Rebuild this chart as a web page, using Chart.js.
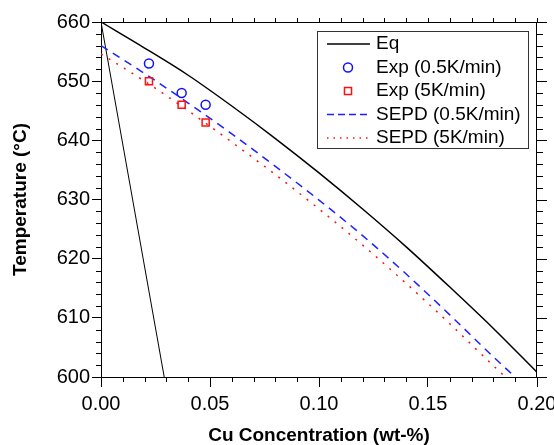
<!DOCTYPE html>
<html>
  <head>
    <meta charset="utf-8" />
    <title>Cu liquidus</title>
    <script src="https://cdn.jsdelivr.net/npm/chart.js"></script>
    <style>
      body { margin: 0; background: #fff; }
      canvas { display: block; }
    </style>
  </head>
  <body>
    <canvas id="phaseChart" width="554" height="445"></canvas>
    <script type="text/javascript">
      // values
      var eqConc = [0, 0.02, 0.04, 0.06, 0.08, 0.10, 0.12, 0.14, 0.16, 0.18, 0.20]
      var eqLiquidus = [660, 655.6, 651.0, 645.8, 640.3, 634.5, 628.4, 622.0, 615.2, 608.2, 600.8]
      var solidusConc = [0, 0.029]
      var eqSolidus = [660, 600]

      var expConc = [0.022, 0.037, 0.048]
      var exp05 = [653, 648, 646]
      var exp5 = [650, 646, 643]

      var sepd05Conc = [0, 0.02, 0.04, 0.06, 0.08, 0.10, 0.12, 0.14, 0.16, 0.18, 0.19]
      var sepd05 = [656, 651.3, 646.3, 641.1, 635.6, 629.9, 623.9, 617.4, 610.5, 603.4, 600]
      var sepd5Conc = [0, 0.02, 0.04, 0.06, 0.08, 0.10, 0.12, 0.14, 0.16, 0.18, 0.1855]
      var sepd5 = [654.6, 650.0, 645.0, 639.7, 634.2, 628.4, 622.3, 615.8, 609.0, 601.9, 600]

      var xTicks = [0, 0.05, 0.10, 0.15, 0.20]
      var yTicks = [600, 610, 620, 630, 640, 650, 660]

      function pts(xs, ys) {
        return xs.map(function(x, i) { return {x: x, y: ys[i]} })
      }

      var FONT = "'Liberation Sans', Arial, sans-serif"

      // frame on top/right plus the minor ticks
      var frameTicks = {
        id: 'frameTicks',
        afterDraw: function(chart) {
          var ctx = chart.ctx
          var a = chart.chartArea
          var sx = chart.scales.x, sy = chart.scales.y
          ctx.save()
          ctx.strokeStyle = '#000'
          ctx.lineWidth = 1
          ctx.beginPath()
          ctx.moveTo(a.left, a.top + 0.5); ctx.lineTo(a.right, a.top + 0.5)
          ctx.moveTo(a.right - 0.5, a.top); ctx.lineTo(a.right - 0.5, a.bottom)
          for (var i = 0; i <= 20; i++) {
            var px = Math.round(sx.getPixelForValue(i / 100)) + 0.5
            if (i % 5 != 0) {
              ctx.moveTo(px, a.bottom); ctx.lineTo(px, a.bottom + 5)
            }
            ctx.moveTo(px, a.top); ctx.lineTo(px, a.top - 4)
          }
          for (var t = 600; t <= 660; t += 2) {
            var py = Math.round(sy.getPixelForValue(t)) + 0.5
            if (t % 10 != 0) {
              ctx.moveTo(a.left, py); ctx.lineTo(a.left - 5, py)
            }
            ctx.moveTo(a.right, py); ctx.lineTo(a.right + (t % 10 == 0 ? 10 : 6), py)
          }
          ctx.stroke()
          ctx.restore()
        }
      }

      // boxed legend inside the plot
      var boxLegend = {
        id: 'boxLegend',
        afterDraw: function(chart) {
          var ctx = chart.ctx
          var bx = 317, by = 31, bw = 211, bh = 117
          ctx.save()
          ctx.fillStyle = '#fff'
          ctx.fillRect(bx, by, bw, bh)
          ctx.strokeStyle = '#333'
          ctx.lineWidth = 1
          ctx.strokeRect(bx + 0.5, by + 0.5, bw, bh)
          var items = chart.data.datasets.filter(function(d) { return !d.noLegend })
          items.forEach(function(ds, i) {
            var cy = by + 13 + i * 23.5
            ctx.save()
            if (ds.showLine) {
              ctx.strokeStyle = ds.borderColor
              ctx.lineWidth = ds.borderWidth
              ctx.setLineDash(ds.legendDash || [])
              ctx.beginPath()
              ctx.moveTo(327, cy); ctx.lineTo(370, cy)
              ctx.stroke()
            } else {
              ctx.strokeStyle = ds.borderColor
              ctx.fillStyle = 'rgba(0,0,0,0)'
              ctx.lineWidth = ds.borderWidth
              Chart.helpers.drawPoint(ctx, {
                pointStyle: ds.pointStyle, radius: ds.pointRadius,
                borderWidth: ds.borderWidth, rotation: 0
              }, 348, cy)
            }
            ctx.restore()
            ctx.fillStyle = '#000'
            ctx.font = '19px ' + FONT
            ctx.textBaseline = 'middle'
            ctx.textAlign = 'left'
            ctx.fillText(ds.label, 376, cy)
          })
          ctx.restore()
        }
      }

      var datasets = [
        {
          label: 'Eq', data: pts(eqConc, eqLiquidus), showLine: true,
          borderColor: '#000', borderWidth: 1.5, pointRadius: 0,
          cubicInterpolationMode: 'monotone'
        },
        {
          label: 'Exp (0.5K/min)', data: pts(expConc, exp05), showLine: false,
          borderColor: '#1010ff', backgroundColor: 'rgba(0,0,0,0)',
          borderWidth: 1.5, pointStyle: 'circle', pointRadius: 4.5
        },
        {
          label: 'Exp (5K/min)', data: pts(expConc, exp5), showLine: false,
          borderColor: '#ff1010', backgroundColor: 'rgba(0,0,0,0)',
          borderWidth: 1.5, pointStyle: 'rect', pointRadius: 5
        },
        {
          label: 'SEPD (0.5K/min)', data: pts(sepd05Conc, sepd05), showLine: true,
          borderColor: '#2020ff', borderWidth: 1.5, borderDash: [8, 6],
          legendDash: [7, 4], pointRadius: 0, cubicInterpolationMode: 'monotone'
        },
        {
          label: 'SEPD (5K/min)', data: pts(sepd5Conc, sepd5), showLine: true,
          borderColor: '#ff1010', borderWidth: 1.5, borderDash: [2, 7],
          legendDash: [1.5, 5], pointRadius: 0, cubicInterpolationMode: 'monotone'
        },
        {
          label: 'Eq', noLegend: true, data: pts(solidusConc, eqSolidus), showLine: true,
          borderColor: '#000', borderWidth: 1, pointRadius: 0
        }
      ]

      var ctx = document.getElementById('phaseChart').getContext('2d')
      new Chart(ctx, {
        type: 'scatter',
        data: { datasets: datasets },
        plugins: [frameTicks, boxLegend],
        options: {
          responsive: false,
          animation: false,
          layout: { padding: { top: 22, right: 17, left: 0, bottom: 0 } },
          plugins: { legend: { display: false }, tooltip: { enabled: false } },
          scales: {
            x: {
              type: 'linear', position: 'bottom', min: 0, max: 0.2,
              afterBuildTicks: function(s) { s.ticks = xTicks.map(function(v) { return {value: v} }) },
              afterFit: function(s) { s.height = 68; s.paddingLeft = 0; s.paddingRight = 0 },
              ticks: {
                color: '#000', padding: 5, maxRotation: 0, autoSkip: false,
                font: { family: FONT, size: 20 },
                callback: function(v) { return v.toFixed(2) }
              },
              grid: { drawOnChartArea: false, drawTicks: true, tickLength: 10, color: '#000' },
              border: { color: '#000', width: 1 },
              title: {
                display: true, text: 'Cu Concentration (wt-%)', color: '#000',
                font: { family: FONT, size: 19, weight: 'bold', lineHeight: 1 },
                padding: { top: 0, bottom: 0 }
              }
            },
            y: {
              type: 'linear', position: 'left', min: 600, max: 660,
              afterBuildTicks: function(s) { s.ticks = yTicks.map(function(v) { return {value: v} }) },
              afterFit: function(s) { s.width = 101; s.paddingTop = 0; s.paddingBottom = 0 },
              ticks: {
                color: '#000', padding: 2,
                font: { family: FONT, size: 20 }
              },
              grid: { drawOnChartArea: false, drawTicks: true, tickLength: 9, color: '#000' },
              border: { color: '#000', width: 1 },
              title: {
                display: true, text: 'Temperature (°C)', color: '#000',
                font: { family: FONT, size: 19, weight: 'bold' },
                padding: { top: 9, bottom: 0 }
              }
            }
          }
        }
      })
    </script>
  </body>
</html>
